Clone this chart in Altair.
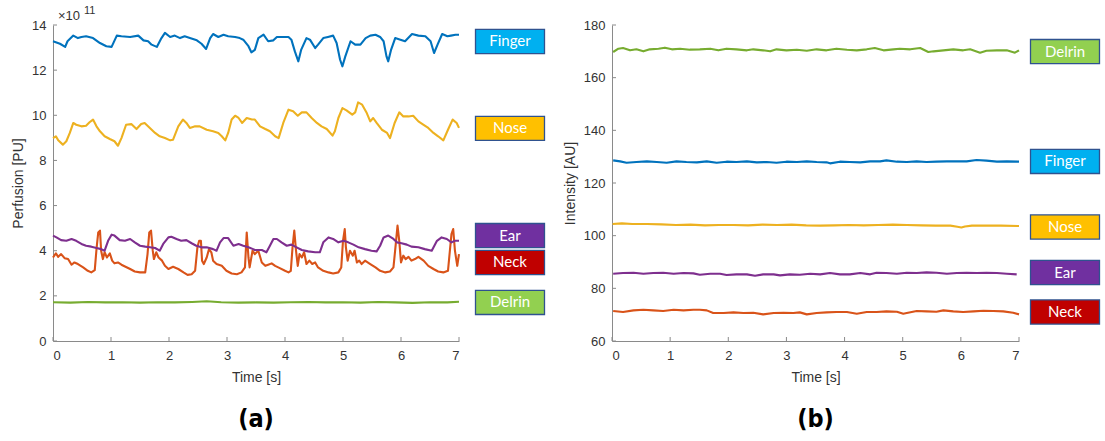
import altair as alt
import pandas as pd

# ---------------- Panel (a): perfusion (x 1e11 PU) ----------------
finger_a_t = [0.00, 0.12, 0.21, 0.25, 0.35, 0.43, 0.49, 0.57, 0.69, 0.81, 0.92, 1.01, 1.10, 1.18, 1.33,
              1.47, 1.56, 1.64, 1.70, 1.79, 1.87, 1.93, 2.02, 2.10, 2.19, 2.27, 2.36, 2.48, 2.56, 2.64,
              2.71, 2.76, 2.85, 2.94, 3.02, 3.14, 3.22, 3.28, 3.37, 3.42, 3.48, 3.54, 3.63, 3.71, 3.80,
              3.86, 3.94, 4.06, 4.11, 4.17, 4.23, 4.28, 4.37, 4.43, 4.52, 4.57, 4.66, 4.74, 4.83, 4.89,
              4.95, 4.99, 5.04, 5.13, 5.21, 5.30, 5.39, 5.47, 5.56, 5.64, 5.70, 5.75, 5.78, 5.83, 5.90,
              5.99, 6.07, 6.19, 6.30, 6.42, 6.51, 6.57, 6.63, 6.71, 6.80, 6.86, 6.94, 7.00]
finger_a_v = [13.28, 13.17, 13.03, 13.28, 13.53, 13.42, 13.47, 13.50, 13.42, 13.20, 13.06, 13.03, 13.53, 13.50, 13.47,
              13.53, 13.32, 13.28, 13.13, 13.03, 13.42, 13.65, 13.47, 13.53, 13.42, 13.50, 13.42, 13.32, 13.17, 12.94,
              13.42, 13.60, 13.47, 13.57, 13.50, 13.47, 13.42, 13.35, 13.06, 12.79, 12.90, 13.42, 13.57, 13.28, 13.32,
              13.47, 13.47, 13.47, 13.35, 12.83, 12.39, 12.91, 13.42, 13.35, 12.98, 13.13, 13.42, 13.47, 13.53, 13.20,
              12.46, 12.17, 12.61, 13.28, 13.13, 13.13, 13.42, 13.53, 13.57, 13.47, 13.28, 12.61, 12.39, 12.91, 13.42,
              13.35, 13.28, 13.60, 13.53, 13.50, 13.28, 12.76, 13.13, 13.60, 13.50, 13.53, 13.57, 13.57]

nose_a_t = [0.00, 0.05, 0.09, 0.17, 0.23, 0.29, 0.35, 0.40, 0.49, 0.57, 0.63, 0.69, 0.75, 0.81, 0.89,
            0.98, 1.06, 1.12, 1.18, 1.26, 1.35, 1.44, 1.52, 1.58, 1.67, 1.76, 1.84, 1.93, 2.02, 2.07,
            2.16, 2.24, 2.30, 2.36, 2.45, 2.53, 2.65, 2.76, 2.85, 2.91, 2.97, 3.02, 3.08, 3.14, 3.20,
            3.26, 3.34, 3.43, 3.48, 3.57, 3.66, 3.74, 3.83, 3.89, 3.97, 4.06, 4.14, 4.22, 4.29, 4.37,
            4.46, 4.55, 4.63, 4.72, 4.82, 4.86, 4.92, 4.99, 5.06, 5.16, 5.21, 5.26, 5.33, 5.41, 5.47,
            5.52, 5.58, 5.67, 5.76, 5.81, 5.89, 5.97, 6.04, 6.13, 6.21, 6.30, 6.39, 6.47, 6.56, 6.64,
            6.73, 6.81, 6.89, 6.96, 7.00]
nose_a_v = [8.99, 9.07, 8.89, 8.70, 8.85, 9.22, 9.66, 9.58, 9.51, 9.54, 9.69, 9.81, 9.51, 9.29, 9.07,
            8.95, 8.85, 8.65, 8.99, 9.58, 9.61, 9.39, 9.61, 9.66, 9.44, 9.22, 9.07, 8.99, 8.89, 8.92,
            9.51, 9.81, 9.66, 9.44, 9.51, 9.51, 9.36, 9.29, 9.22, 9.07, 8.89, 9.22, 9.81, 9.98, 9.88,
            9.66, 9.88, 9.81, 9.81, 9.51, 9.39, 9.29, 9.07, 8.99, 9.66, 10.25, 10.18, 9.98, 10.13, 10.13,
            9.88, 9.66, 9.51, 9.39, 9.10, 9.29, 9.88, 10.32, 10.22, 10.03, 10.13, 10.57, 10.47, 10.10, 9.73,
            9.88, 9.66, 9.36, 9.22, 8.99, 9.66, 10.13, 9.95, 9.95, 9.98, 9.73, 9.58, 9.44, 9.22, 9.07,
            8.89, 9.36, 9.81, 9.66, 9.44]

ear_a_t = [0.00, 0.06, 0.14, 0.23, 0.32, 0.40, 0.49, 0.57, 0.66, 0.75, 0.83, 0.89, 0.95, 1.01, 1.06,
           1.15, 1.24, 1.33, 1.41, 1.50, 1.59, 1.67, 1.76, 1.84, 1.90, 1.99, 2.04, 2.13, 2.21, 2.30,
           2.39, 2.47, 2.56, 2.65, 2.76, 2.82, 2.88, 2.94, 3.02, 3.11, 3.20, 3.28, 3.37, 3.45, 3.48,
           3.60, 3.68, 3.74, 3.80, 3.86, 3.94, 4.03, 4.11, 4.20, 4.29, 4.40, 4.52, 4.60, 4.66, 4.75,
           4.83, 4.92, 5.01, 5.09, 5.18, 5.27, 5.38, 5.49, 5.58, 5.64, 5.70, 5.78, 5.87, 5.93, 6.01,
           6.10, 6.18, 6.30, 6.41, 6.53, 6.62, 6.70, 6.79, 6.87, 6.93, 7.00]
ear_a_v = [4.67, 4.59, 4.47, 4.44, 4.52, 4.44, 4.30, 4.22, 4.18, 4.12, 4.07, 4.00, 4.44, 4.71, 4.67,
           4.47, 4.44, 4.52, 4.37, 4.22, 4.18, 4.15, 4.12, 4.00, 4.30, 4.59, 4.62, 4.52, 4.44, 4.47,
           4.33, 4.22, 4.15, 4.15, 4.07, 4.00, 4.37, 4.56, 4.56, 4.22, 4.30, 4.22, 4.15, 4.07, 4.03,
           4.03, 3.93, 4.22, 4.52, 4.52, 4.37, 4.22, 4.27, 4.15, 4.03, 3.97, 3.93, 3.93, 4.37, 4.59,
           4.52, 4.37, 4.44, 4.37, 4.27, 4.15, 4.07, 4.00, 3.97, 4.22, 4.59, 4.67, 4.52, 4.37, 4.33,
           4.27, 4.18, 4.15, 4.07, 4.00, 4.44, 4.59, 4.52, 4.37, 4.44, 4.44]

neck_a_t = [0.00, 0.05, 0.09, 0.14, 0.20, 0.26, 0.32, 0.37, 0.43, 0.52, 0.60, 0.66, 0.72, 0.75, 0.78,
            0.81, 0.83, 0.86, 0.89, 0.93, 0.98, 1.02, 1.06, 1.12, 1.18, 1.25, 1.33, 1.41, 1.50, 1.59,
            1.63, 1.66, 1.69, 1.72, 1.74, 1.78, 1.82, 1.88, 1.93, 1.99, 2.07, 2.16, 2.25, 2.32, 2.39,
            2.45, 2.49, 2.52, 2.55, 2.57, 2.60, 2.65, 2.69, 2.73, 2.76, 2.82, 2.91, 2.99, 3.08, 3.17,
            3.25, 3.31, 3.34, 3.37, 3.39, 3.44, 3.48, 3.54, 3.60, 3.66, 3.71, 3.77, 3.83, 3.91, 4.00,
            4.06, 4.10, 4.13, 4.16, 4.19, 4.22, 4.25, 4.29, 4.33, 4.37, 4.42, 4.47, 4.52, 4.57, 4.66,
            4.75, 4.83, 4.92, 4.97, 5.00, 5.03, 5.05, 5.08, 5.12, 5.17, 5.20, 5.24, 5.28, 5.32, 5.38,
            5.47, 5.56, 5.64, 5.73, 5.81, 5.87, 5.91, 5.94, 5.97, 6.00, 6.04, 6.08, 6.13, 6.18, 6.24,
            6.30, 6.39, 6.47, 6.56, 6.64, 6.73, 6.81, 6.87, 6.90, 6.93, 6.97, 7.00]
neck_a_v = [3.70, 3.88, 3.73, 3.85, 3.67, 3.63, 3.38, 3.48, 3.41, 3.26, 3.11, 3.04, 3.14, 4.07, 4.81,
            4.89, 4.00, 3.63, 3.93, 3.70, 3.88, 3.56, 3.44, 3.48, 3.38, 3.29, 3.19, 3.08, 3.04, 3.04,
            3.85, 4.81, 4.89, 4.00, 3.63, 3.93, 3.70, 3.56, 3.33, 3.19, 3.29, 3.19, 3.04, 2.93, 2.96,
            3.11, 4.15, 4.44, 4.44, 3.56, 3.41, 3.70, 4.07, 3.93, 3.56, 3.41, 3.33, 3.11, 2.99, 2.96,
            3.04, 3.26, 4.81, 3.70, 3.26, 4.00, 3.85, 4.00, 3.48, 3.33, 3.38, 3.44, 3.33, 3.23, 3.11,
            3.04, 3.11, 4.15, 4.89, 4.00, 3.33, 3.85, 3.70, 3.93, 3.41, 3.56, 3.41, 3.48, 3.26, 3.11,
            3.04, 2.99, 3.04, 3.26, 4.44, 4.96, 4.15, 3.56, 4.00, 3.78, 4.00, 3.48, 3.56, 3.41, 3.56,
            3.41, 3.26, 3.11, 3.04, 3.08, 3.26, 4.30, 5.11, 4.44, 3.48, 3.78, 3.63, 3.73, 3.56, 3.63,
            3.73, 3.56, 3.33, 3.19, 3.08, 3.04, 3.11, 4.74, 4.96, 4.00, 3.33, 3.85]

delrin_a_t = [0.0, 0.3, 0.6, 0.9, 1.2, 1.5, 1.8, 2.1, 2.4, 2.65, 2.9, 3.2, 3.5, 3.8, 4.1, 4.4, 4.7,
              5.0, 5.3, 5.6, 5.9, 6.2, 6.5, 6.8, 7.0]
delrin_a_v = [1.72, 1.70, 1.73, 1.71, 1.72, 1.70, 1.72, 1.71, 1.73, 1.76, 1.72, 1.70, 1.71, 1.70, 1.72,
              1.73, 1.71, 1.72, 1.70, 1.73, 1.71, 1.69, 1.72, 1.71, 1.74]

# ---------------- Panel (b): intensity (AU) ----------------
delrin_b_t = [0.02, 0.11, 0.19, 0.31, 0.42, 0.54, 0.65, 0.80, 0.91, 1.03, 1.17, 1.34, 1.51, 1.69, 1.83,
              1.97, 2.14, 2.32, 2.43, 2.60, 2.72, 2.83, 3.00, 3.18, 3.35, 3.52, 3.69, 3.86, 4.04, 4.21,
              4.38, 4.52, 4.67, 4.84, 4.95, 5.13, 5.30, 5.44, 5.53, 5.70, 5.87, 6.04, 6.16, 6.33, 6.44,
              6.62, 6.79, 6.93, 7.00]
delrin_b_v = [169.75, 171.01, 171.26, 170.38, 170.76, 170.00, 170.76, 171.01, 171.39, 170.76, 171.01, 170.63,
              170.76, 171.01, 170.38, 171.01, 170.76, 170.38, 170.76, 170.38, 170.00, 170.76, 170.38, 170.63,
              170.25, 170.76, 170.38, 171.01, 170.63, 170.38, 170.76, 171.26, 170.38, 170.76, 171.01, 170.76,
              171.26, 169.75, 170.00, 170.38, 170.76, 170.38, 170.76, 169.49, 170.25, 170.38, 170.38, 169.49,
              170.38]

finger_b_t = [0.02, 0.14, 0.25, 0.42, 0.60, 0.77, 0.94, 1.11, 1.28, 1.46, 1.63, 1.80, 1.97, 2.14, 2.32,
              2.49, 2.66, 2.83, 3.00, 3.18, 3.35, 3.52, 3.69, 3.75, 3.92, 4.09, 4.27, 4.44, 4.61, 4.72,
              4.90, 5.07, 5.24, 5.41, 5.58, 5.76, 5.93, 6.10, 6.27, 6.44, 6.62, 6.79, 7.00]
finger_b_v = [128.60, 128.22, 127.71, 127.97, 128.22, 127.97, 127.71, 128.22, 127.97, 127.84, 128.22, 127.71,
              128.10, 127.97, 128.22, 127.84, 127.97, 127.71, 128.10, 127.97, 128.22, 127.97, 127.84, 127.46,
              128.10, 127.97, 127.84, 128.22, 128.22, 128.60, 128.10, 127.97, 128.22, 127.97, 128.10, 128.22,
              128.22, 128.22, 128.73, 128.48, 128.10, 128.22, 128.10]

nose_b_t = [0.01, 0.17, 0.35, 0.60, 0.85, 1.10, 1.35, 1.60, 1.84, 2.09, 2.34, 2.59, 2.84, 3.09, 3.34,
            3.58, 3.83, 4.08, 4.33, 4.58, 4.83, 5.07, 5.32, 5.57, 5.82, 5.94, 6.01, 6.07, 6.19, 6.44,
            6.69, 7.00]
nose_b_v = [104.43, 104.68, 104.43, 104.43, 104.30, 104.05, 104.18, 103.92, 104.05, 104.05, 103.92, 104.18,
            104.05, 104.18, 103.92, 103.80, 103.92, 104.05, 103.92, 104.05, 104.18, 104.05, 103.92, 103.80,
            103.80, 103.40, 103.10, 103.50, 103.80, 103.80, 103.80, 103.67]

ear_b_t = [0.02, 0.19, 0.37, 0.54, 0.71, 0.88, 1.06, 1.23, 1.40, 1.51, 1.69, 1.86, 1.97, 2.14, 2.32,
           2.46, 2.60, 2.78, 2.89, 3.06, 3.23, 3.41, 3.58, 3.75, 3.92, 4.09, 4.27, 4.44, 4.55, 4.72,
           4.90, 5.07, 5.24, 5.41, 5.58, 5.76, 5.93, 6.10, 6.27, 6.44, 6.62, 6.79, 6.96]
ear_b_v = [85.56, 85.81, 85.94, 85.56, 85.81, 85.94, 85.56, 85.81, 85.69, 85.18, 85.56, 85.56, 85.05, 85.31,
           85.31, 84.80, 85.31, 85.31, 84.93, 85.31, 85.18, 85.56, 85.31, 85.81, 85.31, 85.31, 85.81, 85.31,
           85.94, 85.81, 85.56, 85.94, 85.81, 86.07, 85.94, 85.56, 85.81, 85.94, 85.81, 85.94, 85.81, 85.56,
           85.31]

neck_b_t = [0.02, 0.19, 0.37, 0.54, 0.71, 0.88, 1.06, 1.23, 1.40, 1.51, 1.63, 1.74, 1.92, 2.09, 2.26,
            2.43, 2.60, 2.78, 2.95, 3.12, 3.23, 3.35, 3.52, 3.69, 3.86, 4.04, 4.21, 4.38, 4.55, 4.72,
            4.90, 5.01, 5.07, 5.24, 5.41, 5.58, 5.70, 5.87, 6.04, 6.22, 6.39, 6.56, 6.73, 6.90, 7.00]
neck_b_v = [71.38, 71.00, 71.63, 71.88, 71.63, 71.38, 71.88, 71.63, 71.88, 71.88, 71.63, 70.62, 70.62, 70.87,
            70.62, 70.74, 70.11, 70.62, 70.74, 70.62, 70.87, 70.11, 70.62, 70.87, 71.00, 71.00, 70.36, 71.00,
            71.00, 71.25, 71.12, 70.36, 70.62, 71.38, 71.25, 71.12, 71.63, 71.25, 71.00, 71.25, 71.50, 71.38,
            71.25, 70.74, 70.11]

# label tags and the level each tag sits at
names_a = ["Finger", "Nose", "Ear", "Neck", "Delrin"]
label_y_a = [13.27, 9.42, 4.67, 3.48, 1.71]
names_b = ["Delrin", "Finger", "Nose", "Ear", "Neck"]
label_y_b = [169.9, 128.2, 103.3, 86.0, 71.0]

x_ticks = [0, 1, 2, 3, 4, 5, 6, 7]
y_ticks_a = [0, 2, 4, 6, 8, 10, 12, 14]
y_ticks_b = [60, 80, 100, 120, 140, 160, 180]

line_colors = {"Finger": "#0072BD", "Neck": "#D95319", "Nose": "#EDB120",
               "Ear": "#7E2F8E", "Delrin": "#77AC30"}
tag_colors = {"Finger": "#00B0F0", "Nose": "#FFC000", "Ear": "#7030A0",
              "Neck": "#C00000", "Delrin": "#92D050"}
draw_order = ["Finger", "Neck", "Nose", "Ear", "Delrin"]

W, H = 406, 316
TAG_W = 69
TAG_SHAPE = "M-1,-0.35L1,-0.35L1,0.35L-1,0.35Z"
AXIS_GREY = "#8a8a8a"
TEXT_GREY = "#333333"
NUM_FONT = "Liberation Sans"
TAG_FONT = "Lato"


def panel(series, names, label_y, y_dom, y_ticks, y_title, tag_x, caption, width):
    xs = alt.X("t:Q", scale=alt.Scale(domain=[0, 7], nice=False, zero=False),
               axis=alt.Axis(values=x_ticks, title="Time [s]", format="d"))
    ys = alt.Y("v:Q", scale=alt.Scale(domain=y_dom, nice=False, zero=False),
               axis=alt.Axis(values=y_ticks, title=y_title, format="d"))
    layers = []
    for name in draw_order:
        t, v = series[name]
        df = pd.DataFrame({"t": t, "v": v})
        layers.append(alt.Chart(df).mark_line(color=line_colors[name], strokeWidth=2.1,
                                               strokeJoin="round").encode(x=xs, y=ys))

    # inward tick marks
    xt = pd.DataFrame({"t": x_ticks})
    layers.append(alt.Chart(xt).mark_rule(color=AXIS_GREY, strokeWidth=1).encode(
        x="t:Q", y=alt.value(H), y2=alt.value(H - 4)))
    yt = pd.DataFrame({"v": y_ticks})
    layers.append(alt.Chart(yt).mark_rule(color=AXIS_GREY, strokeWidth=1).encode(
        y="v:Q", x=alt.value(0), x2=alt.value(4)))

    # coloured name tags to the right of the plot
    tags = pd.DataFrame({"name": names, "v": label_y})
    layers.append(alt.Chart(tags).mark_point(
        shape=TAG_SHAPE, size=TAG_W * TAG_W, filled=True, opacity=1,
        stroke="#2F528F", strokeWidth=1.3).encode(
        x=alt.value(tag_x), y="v:Q",
        fill=alt.Fill("name:N", scale=alt.Scale(domain=list(tag_colors.keys()),
                                                range=list(tag_colors.values())), legend=None)))
    layers.append(alt.Chart(tags).mark_text(color="white", font=TAG_FONT, fontSize=15).encode(
        x=alt.value(tag_x), y="v:Q", text="name:N"))

    # panel caption below the axis
    cap = pd.DataFrame({"c": [caption]})
    layers.append(alt.Chart(cap).mark_text(
        font="Liberation Sans Narrow, DejaVu Sans Condensed, sans-serif",
        fontSize=25, fontWeight="bold", color="black", baseline="middle").encode(
        x=alt.value(width / 2), y=alt.value(H + 78), text="c:N"))
    return layers


series_a = {"Finger": (finger_a_t, finger_a_v), "Nose": (nose_a_t, nose_a_v),
            "Ear": (ear_a_t, ear_a_v), "Neck": (neck_a_t, neck_a_v),
            "Delrin": (delrin_a_t, delrin_a_v)}
series_b = {"Finger": (finger_b_t, finger_b_v), "Nose": (nose_b_t, nose_b_v),
            "Ear": (ear_b_t, ear_b_v), "Neck": (neck_b_t, neck_b_v),
            "Delrin": (delrin_b_t, delrin_b_v)}

layers_a = panel(series_a, names_a, label_y_a, [0, 14], y_ticks_a, "Perfusion [PU]", 457, "(a)", W)

# exponent marker above the perfusion axis
mult = pd.DataFrame({"s": ["\u00d710"]})
expo = pd.DataFrame({"s": ["11"]})
layers_a.append(alt.Chart(mult).mark_text(font=NUM_FONT, fontSize=13, color=TEXT_GREY,
                                          align="left", baseline="middle").encode(
    x=alt.value(5), y=alt.value(-9), text="s:N"))
layers_a.append(alt.Chart(expo).mark_text(font=NUM_FONT, fontSize=11, color=TEXT_GREY,
                                          align="left", baseline="middle").encode(
    x=alt.value(31), y=alt.value(-14), text="s:N"))

layers_b = panel(series_b, names_b, label_y_b, [60, 180], y_ticks_b, "Intensity [AU]", 453, "(b)", W + 1)

left = alt.layer(*layers_a).properties(width=W, height=H)
right = alt.layer(*layers_b).properties(width=W + 1, height=H)

chart = alt.hconcat(left, right, spacing=15).properties(
    padding={"left": 11, "top": 5, "right": 0, "bottom": 0}
).configure_view(stroke=None).configure_axis(
    domainColor=AXIS_GREY, domainWidth=1, tickSize=0, grid=False,
    labelFont=NUM_FONT, labelFontSize=13, labelColor=TEXT_GREY, labelPadding=7,
    titleFont=NUM_FONT, titleFontSize=14, titleFontWeight="normal", titleColor=TEXT_GREY,
    titlePadding=6
).configure_axisX(labelPadding=8, titlePadding=8)

chart.save("out.html", embed_options={"renderer": "svg", "actions": False})
